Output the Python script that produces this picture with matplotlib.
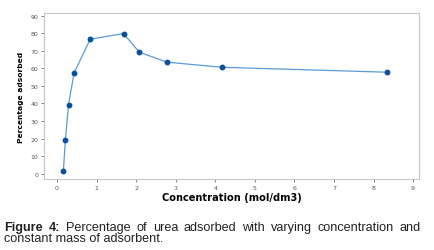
import matplotlib.pyplot as plt

conc = [0.16, 0.21, 0.29, 0.43, 0.84, 1.68, 2.08, 2.78, 4.17, 8.33]
percent = [1.7, 19.0, 39.3, 57.4, 76.6, 79.8, 69.2, 63.5, 60.6, 57.8]
xticks = list(range(0, 10))
yticks = list(range(0, 100, 10))

fig = plt.figure(figsize=(4.34, 2.51), dpi=100)
ax = fig.add_axes([44 / 434, 1 - 180 / 251, 375 / 434, 166 / 251])

ax.plot(conc, percent, color='#5b9bd5', lw=0.9, zorder=2)
ax.plot(conc, percent, 'o', color='#0b4f9c', ms=3.2, zorder=3)

ax.set_xlim(-0.33, 9.15)
ax.set_ylim(-3, 91.5)
ax.set_xticks(xticks)
ax.set_yticks(yticks)
ax.tick_params(labelsize=4.5, colors='#555555', length=2, width=0.5, pad=2)
for s in ax.spines.values():
    s.set_color('#c8c8c8')
    s.set_linewidth(0.8)

ax.set_xlabel('Concentration (mol/dm3)', fontsize=7.1, fontweight='bold', labelpad=2)
ax.set_ylabel('Percentage adsorbed', fontsize=5.4, fontweight='bold', labelpad=5)

# caption, first line justified between x=4 and x=421
cap = 'Liberation Sans'
fs = 9.1
words = ['Figure', '4:', 'Percentage', 'of', 'urea', 'adsorbed', 'with',
         'varying', 'concentration', 'and']
y1 = 1 - 231.5 / 251
fig.canvas.draw()
r = fig.canvas.get_renderer()
texts = []
for i, w in enumerate(words):
    t = fig.text(0, y1, w, fontsize=fs, family=cap, color='#222222',
                 va='baseline', fontweight='bold' if i < 2 else 'normal')
    texts.append(t)
widths = [t.get_window_extent(r).width for t in texts]
left, right = 4, 421
gap = (right - left - sum(widths)) / (len(words) - 1)
x = left
for t, w in zip(texts, widths):
    t.set_x(x / 434)
    x += w + gap
fig.text(4 / 434, 1 - 242 / 251, 'constant mass of adsorbent.', fontsize=fs,
         family=cap, color='#222222', va='baseline')

fig.savefig('out.png', dpi=100)
